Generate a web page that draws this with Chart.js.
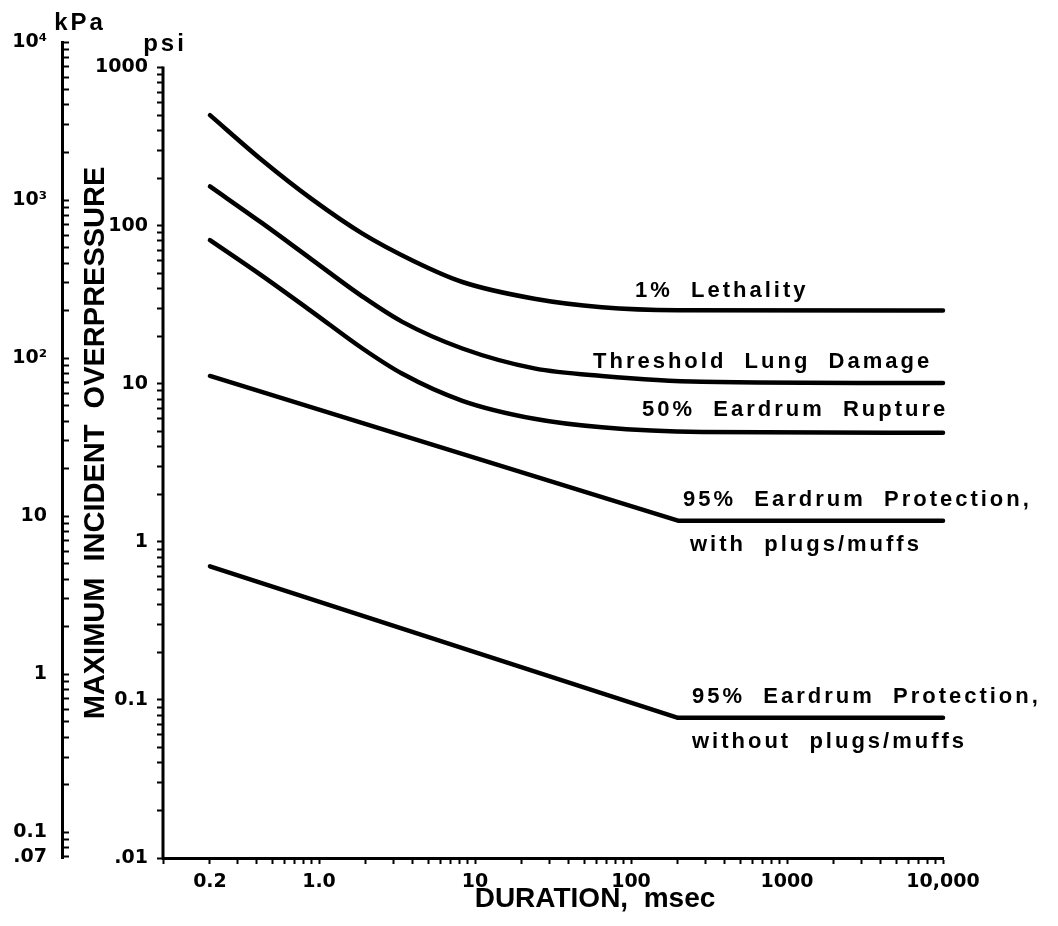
<!DOCTYPE html>
<html>
<head>
<meta charset="utf-8">
<title>Maximum incident overpressure vs duration</title>
<script src="https://cdn.jsdelivr.net/npm/chart.js@4.4.1/dist/chart.umd.min.js"></script>
<style>
  body { margin: 0; background: #fff; }
  canvas { display: block; }
</style>
</head>
<body>
<canvas id="canvas" width="1058" height="926"></canvas>
<script>
// duration (msec) / overpressure (psi) for each damage curve
var lethalityMs  = [0.2, 0.43, 0.9, 1.9, 4, 8.3, 24, 65, 200, 10000]
var lethalityPsi = [500, 260, 147, 89, 60, 44, 34.5, 30.5, 29.2, 29]
var lungMs  = [0.2, 0.43, 0.9, 1.9, 3.4, 8.3, 24, 65, 285, 10000]
var lungPsi = [177, 104, 61, 35.6, 24.7, 16.7, 12.5, 11.2, 10.3, 10.1]
var eardrumMs  = [0.2, 0.43, 0.9, 1.9, 3.4, 8.3, 24, 65, 285, 10000]
var eardrumPsi = [81, 48.3, 28.6, 16.7, 11.6, 7.8, 6.0, 5.3, 4.95, 4.9]
var plugsMs  = [0.2, 200, 10000]
var plugsPsi = [11.2, 1.36, 1.36]
var noPlugsMs  = [0.2, 200, 10000]
var noPlugsPsi = [0.7, 0.077, 0.077]

var curveTop = ['1%  Lethality', 'Threshold  Lung  Damage', '50%  Eardrum  Rupture',
                '95%  Eardrum  Protection,', '95%  Eardrum  Protection,']
var curveBottom = ['', '', '', 'with  plugs/muffs', 'without  plugs/muffs']

// labelled ticks
var msTicks = [0.2, 1, 10, 100, 1000, 10000]
var msLabels = ['0.2', '1.0', '10', '100', '1000', '10,000']
var psiTicks = [0.01, 0.1, 1, 10, 100, 1000]
var psiLabels = ['.01', '0.1', '1', '10', '100', '1000']
var kpaTicks = [0.07, 0.1, 1, 10, 100, 1000, 10000]
var kpaLabels = ['.07', '0.1', '1', '10', '10²', '10³', '10⁴']

var PSI_TO_KPA = 6.894757

// 1..9 x 10^n ticks between lo and hi, named where a label exists
function logTicks(lo, hi, marks, names) {
  var out = []
  for (var e = Math.floor(Math.log10(lo)); e <= Math.ceil(Math.log10(hi)); e++) {
    for (var m = 1; m <= 9; m++) {
      var v = Number((m * Math.pow(10, e)).toPrecision(6))
      if (v < lo * 0.999 || v > hi * 1.001) continue
      var t = {value: v, name: ''}
      for (var i = 0; i < marks.length; i++) {
        if (Math.abs(v / marks[i] - 1) < 1e-6) t.name = names[i]
      }
      out.push(t)
    }
  }
  return out
}

function pts(xs, ys) {
  return xs.map(function(x, i) { return {x: x, y: ys[i]} })
}

function curve(xs, ys, smooth) {
  return {
    data: pts(xs, ys),
    yAxisID: 'psi',
    borderColor: '#000',
    borderWidth: 4.5,
    borderCapStyle: 'round',
    borderJoinStyle: 'round',
    pointRadius: 0,
    fill: false,
    clip: false,
    cubicInterpolationMode: smooth ? 'monotone' : 'default',
    tension: 0
  }
}

var tickFont = {family: 'DejaVu Sans', size: 19, weight: 'bold'}
function tickName(value, index, ticks) { return ticks[index].name || '' }

var annotate = {
  id: 'annotate',
  afterDraw: function(chart) {
    var ctx = chart.ctx
    var psi = chart.scales.psi
    var area = chart.chartArea
    ctx.save()
    ctx.fillStyle = '#000'
    ctx.strokeStyle = '#000'

    // psi axis line only runs up to 1000 psi
    ctx.lineWidth = 3
    ctx.beginPath()
    ctx.moveTo(psi.right, psi.getPixelForValue(0.01) + 1.5)
    ctx.lineTo(psi.right, psi.getPixelForValue(1000) - 1)
    ctx.stroke()

    // unit labels
    ctx.font = 'bold 24px "Liberation Sans"'
    ctx.letterSpacing = '3px'
    ctx.textAlign = 'center'
    ctx.textBaseline = 'middle'
    ctx.fillText('kPa', 80, 23)
    ctx.fillText('psi', 165, 44)

    // axis titles
    ctx.letterSpacing = '0px'
    ctx.font = 'bold 28px "Liberation Sans"'
    ctx.fillText('DURATION,  msec', (area.left + area.right) / 2 + 42, 899)
    ctx.save()
    ctx.translate(96, 443)
    ctx.rotate(-Math.PI / 2)
    ctx.font = 'bold 29px "Liberation Sans"'
    ctx.fillText('MAXIMUM  INCIDENT  OVERPRESSURE', 0, 0)
    ctx.restore()

    // curve names over the flat tails, second line under it
    var topX = [635, 593, 642, 683, 692]
    var topDy = [-20, -21, -23, -21, -21]
    var botX = [0, 0, 0, 690, 692]
    ctx.font = 'bold 22px "Liberation Sans"'
    ctx.letterSpacing = '3px'
    ctx.textAlign = 'left'
    chart.data.datasets.forEach(function(ds, i) {
      var last = ds.data[ds.data.length - 1]
      var y = psi.getPixelForValue(last.y)
      ctx.fillText(curveTop[i], topX[i], y + topDy[i])
      if (curveBottom[i]) ctx.fillText(curveBottom[i], botX[i], y + 24)
    })
    ctx.restore()
  }
}

var chart = new Chart(document.getElementById('canvas').getContext('2d'), {
  type: 'line',
  data: {
    datasets: [
      curve(lethalityMs, lethalityPsi, true),
      curve(lungMs, lungPsi, true),
      curve(eardrumMs, eardrumPsi, true),
      curve(plugsMs, plugsPsi, false),
      curve(noPlugsMs, noPlugsPsi, false)
    ]
  },
  options: {
    responsive: false,
    animation: false,
    events: [],
    layout: {padding: {top: 42, right: 115, bottom: 0, left: 0}},
    plugins: {legend: {display: false}, tooltip: {enabled: false}},
    scales: {
      x: {
        type: 'logarithmic',
        min: 0.1,
        max: 10000,
        afterBuildTicks: function(scale) { scale.ticks = logTicks(0.1, 10000, msTicks, msLabels) },
        afterFit: function(scale) { scale.height = 68 },
        border: {display: true, color: '#000', width: 3},
        grid: {drawOnChartArea: false, drawTicks: true, tickLength: 6, tickColor: '#000', tickWidth: 2},
        ticks: {autoSkip: false, maxRotation: 0, padding: 7, color: '#000', font: tickFont, callback: tickName}
      },
      psi: {
        type: 'logarithmic',
        position: 'left',
        weight: 0,
        min: 0.01,
        max: 10000 / PSI_TO_KPA,
        afterBuildTicks: function(scale) { scale.ticks = logTicks(0.01, 1000, psiTicks, psiLabels) },
        afterFit: function(scale) { scale.width = 101 },
        border: {display: false},
        grid: {drawOnChartArea: false, drawTicks: true, tickLength: 6, tickColor: '#000', tickWidth: 2},
        ticks: {autoSkip: false, padding: 9, color: '#000', font: tickFont, callback: tickName}
      },
      kpa: {
        type: 'logarithmic',
        position: 'left',
        weight: 10,
        min: 0.01 * PSI_TO_KPA,
        max: 10000,
        afterBuildTicks: function(scale) { scale.ticks = logTicks(0.07, 10000, kpaTicks, kpaLabels) },
        afterFit: function(scale) { scale.width = 62 },
        border: {display: true, color: '#000', width: 3},
        // negative length turns the tick marks toward the plot
        grid: {drawOnChartArea: false, drawTicks: true, tickLength: -7, tickColor: '#000', tickWidth: 2},
        ticks: {autoSkip: false, padding: 22, color: '#000', font: tickFont, callback: tickName}
      }
    }
  },
  plugins: [annotate]
})
</script>
</body>
</html>
